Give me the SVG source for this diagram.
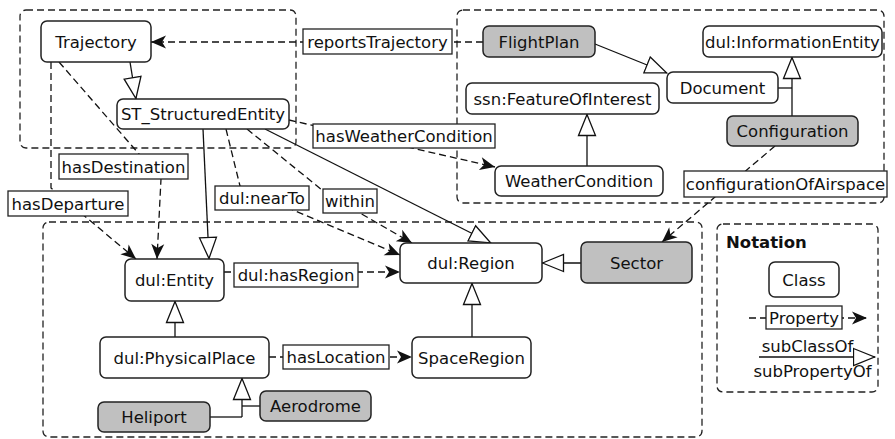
<svg xmlns="http://www.w3.org/2000/svg" width="895" height="439" viewBox="0 0 895 439">
<style>
text{font-family:"DejaVu Sans","Liberation Sans",sans-serif;font-size:16.5px;fill:#111;text-anchor:middle}
.node rect{fill:#fff;stroke:#222;stroke-width:1.5}
.gray rect{fill:#c0c0c0}
.lbl rect{fill:#fff;stroke:#222;stroke-width:1.3}
.grp{fill:none;stroke:#222;stroke-width:1.3;stroke-dasharray:7,4}
.dash{fill:none;stroke:#111;stroke-width:1.3;stroke-dasharray:7,4;marker-end:url(#arr)}
.sub{fill:none;stroke:#111;stroke-width:1.3;marker-end:url(#tri)}
.ln{fill:none;stroke:#111;stroke-width:1.3}
</style>
<defs>
<marker id="arr" markerUnits="userSpaceOnUse" viewBox="-1 -8 17 16" refX="15" refY="0" markerWidth="17" markerHeight="16" orient="auto">
<path d="M0,-6.5 L15,0 L0,6.5 L4,0 z" fill="#111"/>
</marker>
<marker id="tri" markerUnits="userSpaceOnUse" viewBox="-1 -10 24 20" refX="21.5" refY="0" markerWidth="24" markerHeight="20" orient="auto">
<path d="M0,-8.5 L21,0 L0,8.5 z" fill="#fff" stroke="#111" stroke-width="1.3"/>
</marker>
</defs>
<g id="groups">
<rect class="grp" x="20" y="10" width="276" height="138" rx="6"/>
<rect class="grp" x="457" y="10" width="427" height="193" rx="6"/>
<rect class="grp" x="43" y="222" width="659" height="215" rx="6"/>
<rect class="grp" x="717" y="224" width="161" height="168" rx="6"/>
</g>
<g id="connectors">
<line class="dash" x1="483" y1="42" x2="151" y2="42"/>
<line class="sub" x1="130" y1="62" x2="136" y2="99"/>
<line class="dash" x1="289" y1="120" x2="495" y2="167"/>
<line class="sub" x1="595" y1="44" x2="667" y2="73"/>
<line class="sub" x1="792" y1="116" x2="792" y2="57"/>
<line class="ln" x1="778" y1="88" x2="792" y2="88"/>
<line class="sub" x1="587" y1="166" x2="587" y2="114"/>
<line class="dash" x1="775" y1="146" x2="662" y2="242"/>
<polyline class="dash" points="51,62 51,188 136,259"/>
<polyline class="dash" points="59,62 139,154 161,179 157,259"/>
<line class="sub" x1="203" y1="129" x2="209" y2="259"/>
<polyline class="dash" points="226,129 240,186 293,210 400,255"/>
<polyline class="dash" points="247,129 322,190 360,213 412,243"/>
<line class="sub" x1="265" y1="129" x2="491" y2="243"/>
<line class="dash" x1="224" y1="272" x2="400" y2="272"/>
<line class="sub" x1="175" y1="337" x2="175" y2="301"/>
<line class="dash" x1="269" y1="357" x2="412" y2="357"/>
<line class="sub" x1="472" y1="337" x2="472" y2="283"/>
<line class="sub" x1="581" y1="263" x2="542" y2="263"/>
<line class="sub" x1="242" y1="417" x2="242" y2="378"/>
<line class="ln" x1="210" y1="417" x2="242" y2="417"/>
<line class="ln" x1="260" y1="406" x2="242" y2="406"/>
<line class="dash" x1="749" y1="318" x2="867" y2="318"/>
<line class="sub" x1="759" y1="357" x2="875" y2="357"/>
</g>
<g id="n-trajectory" class="node"><rect x="41" y="21" width="110" height="41" rx="6"/><text x="96" y="47.5">Trajectory</text></g>
<g id="n-st" class="node"><rect x="117" y="99" width="172" height="30" rx="6"/><text x="203" y="120">ST_StructuredEntity</text></g>
<g id="n-flightplan" class="node gray"><rect x="483" y="26" width="112" height="31" rx="6"/><text x="539" y="47.5">FlightPlan</text></g>
<g id="n-infoentity" class="node"><rect x="703" y="26" width="179" height="31" rx="6"/><text x="792.5" y="47.5">dul:InformationEntity</text></g>
<g id="n-document" class="node"><rect x="667" y="72" width="111" height="31" rx="6"/><text x="722.5" y="93.5">Document</text></g>
<g id="n-foi" class="node"><rect x="466" y="83" width="193" height="31" rx="6"/><text x="562.5" y="104.5">ssn:FeatureOfInterest</text></g>
<g id="n-configuration" class="node gray"><rect x="727" y="116" width="131" height="30" rx="6"/><text x="792.5" y="137">Configuration</text></g>
<g id="n-weather" class="node"><rect x="495" y="166" width="168" height="30" rx="6"/><text x="579" y="187">WeatherCondition</text></g>
<g id="n-sector" class="node gray"><rect x="581" y="242" width="111" height="41" rx="6"/><text x="636.5" y="268.5">Sector</text></g>
<g id="n-region" class="node"><rect x="400" y="243" width="142" height="40" rx="6"/><text x="471" y="269">dul:Region</text></g>
<g id="n-entity" class="node"><rect x="125" y="259" width="99" height="42" rx="6"/><text x="174.5" y="286">dul:Entity</text></g>
<g id="n-physicalplace" class="node"><rect x="100" y="337" width="169" height="41" rx="6"/><text x="184.5" y="363.5">dul:PhysicalPlace</text></g>
<g id="n-spaceregion" class="node"><rect x="412" y="337" width="119" height="41" rx="6"/><text x="471.5" y="363.5">SpaceRegion</text></g>
<g id="n-heliport" class="node gray"><rect x="98" y="402" width="112" height="30" rx="6"/><text x="154" y="423">Heliport</text></g>
<g id="n-aerodrome" class="node gray"><rect x="260" y="391" width="111" height="30" rx="6"/><text x="315.5" y="412">Aerodrome</text></g>
<g id="l-reports" class="lbl"><rect x="303" y="29" width="149" height="25"/><text x="377.5" y="47.5">reportsTrajectory</text></g>
<g id="l-weather" class="lbl"><rect x="313" y="124" width="182" height="24"/><text x="404" y="142">hasWeatherCondition</text></g>
<g id="l-destination" class="lbl"><rect x="59" y="154" width="129" height="25"/><text x="123.5" y="172.5">hasDestination</text></g>
<g id="l-departure" class="lbl"><rect x="8" y="191" width="120" height="25"/><text x="68" y="209.5">hasDeparture</text></g>
<g id="l-nearto" class="lbl"><rect x="215" y="186" width="94" height="24"/><text x="262" y="204">dul:nearTo</text></g>
<g id="l-within" class="lbl"><rect x="323" y="189" width="54" height="24"/><text x="350" y="207">within</text></g>
<g id="l-hasregion" class="lbl"><rect x="234" y="263" width="124" height="24"/><text x="296" y="281">dul:hasRegion</text></g>
<g id="l-haslocation" class="lbl"><rect x="283" y="345" width="106" height="24"/><text x="336" y="363">hasLocation</text></g>
<g id="l-configairspace" class="lbl"><rect x="684" y="171" width="203" height="26"/><text x="785.5" y="190">configurationOfAirspace</text></g>
<g id="notation">
<text x="726" y="248" style="font-weight:bold;text-anchor:start">Notation</text>
<g id="n-class" class="node"><rect x="769" y="262" width="70" height="35" rx="6"/><text x="804" y="285.5">Class</text></g>
<g id="l-property" class="lbl"><rect x="766" y="306" width="76" height="23"/><text x="804" y="323.5">Property</text></g>
<text x="807.5" y="352">subClassOf</text>
<text x="812.5" y="377">subPropertyOf</text>
</g>
</svg>
